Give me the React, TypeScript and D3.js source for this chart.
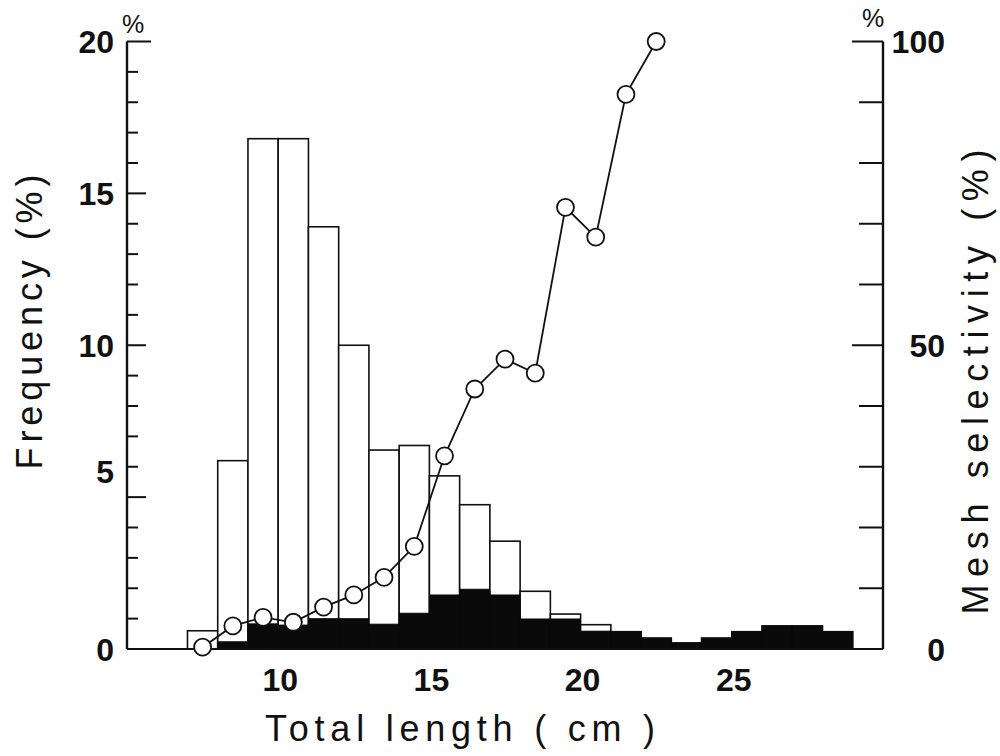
import React from "react";
import * as d3 from "d3";

// Length classes (lower bound of each 1 cm class, cm)
const lengthClasses = [7, 8, 9, 10, 11, 12, 13, 14, 15, 16, 17, 18, 19, 20, 21, 22, 23, 24, 25, 26, 27, 28];
// Frequency of all fish in each class (%), open bars
const totalFreq = [0.6, 6.2, 16.8, 16.8, 13.9, 10.0, 6.55, 6.7, 5.7, 4.75, 3.55, 1.9, 1.15, 0.8, 0.57, 0.36, 0.2, 0.36, 0.57, 0.76, 0.76, 0.57];
// Frequency of retained fish in each class (%), solid bars
const retainedFreq = [0, 0.24, 0.83, 0.79, 1.0, 1.0, 0.82, 1.18, 1.78, 1.97, 1.78, 0.99, 0.99, 0.59, 0.57, 0.36, 0.2, 0.36, 0.57, 0.76, 0.76, 0.57];
// Mesh selectivity at class mid-points (%)
const selectivityMid = [7.5, 8.5, 9.5, 10.5, 11.5, 12.5, 13.5, 14.5, 15.5, 16.5, 17.5, 18.5, 19.5, 20.5, 21.5, 22.5];
const selectivity = [0.3, 3.8, 5.2, 4.4, 6.9, 8.9, 11.8, 16.9, 31.8, 42.8, 47.7, 45.4, 72.7, 67.8, 91.3, 100];

const xTickLabels = [10, 15, 20, 25];
const leftTickLabels = [0, 5, 10, 15, 20];
const rightTickLabels = [0, 50, 100];

const W = 1000;
const H = 756;
const left = 127;
const right = 883;
const top = 41.5;
const bottom = 649;

const boldFont = "'Liberation Sans', Arial, sans-serif";
const titleFont = "'Liberation Sans', Arial, sans-serif";

export default function App() {
  const x = d3.scaleLinear().domain([5, 30]).range([left, right]);
  const yL = d3.scaleLinear().domain([0, 20]).range([bottom, top]);
  const yR = d3.scaleLinear().domain([0, 100]).range([bottom, top]);

  const line = d3
    .line<number>()
    .x((_, i) => x(selectivityMid[i]))
    .y((d) => yR(d));

  const leftTicks = d3.range(1, 21);
  const rightTicks = d3.range(10, 101, 10);

  return (
    <svg
      width={W}
      height={H}
      viewBox={`0 0 ${W} ${H}`}
      style={{ position: "absolute", left: 0, top: 0, background: "#fff" }}
    >
      <rect width={W} height={H} fill="#fff" />

      {/* open bars: total catch */}
      {lengthClasses.map((c, i) => (
        <rect
          key={"t" + c}
          x={x(c)}
          y={yL(totalFreq[i])}
          width={x(c + 1) - x(c)}
          height={bottom - yL(totalFreq[i])}
          fill="#fff"
          stroke="#111"
          strokeWidth={1.6}
        />
      ))}

      {/* solid bars: retained fish */}
      {lengthClasses.map((c, i) =>
        retainedFreq[i] > 0 ? (
          <rect
            key={"r" + c}
            x={x(c)}
            y={yL(retainedFreq[i])}
            width={x(c + 1) - x(c)}
            height={bottom - yL(retainedFreq[i])}
            fill="#0a0a0a"
            stroke="#0a0a0a"
            strokeWidth={0.8}
          />
        ) : null
      )}

      {/* baseline */}
      <line x1={left} x2={right} y1={bottom} y2={bottom} stroke="#111" strokeWidth={2} />

      {/* left axis */}
      <line x1={left} x2={left} y1={top} y2={bottom} stroke="#111" strokeWidth={2.4} />
      {leftTicks.map((t) => {
        const len = t === 20 ? 24 : t % 5 === 0 ? 19 : 11;
        return (
          <line key={"lt" + t} x1={left} x2={left + len} y1={yL(t)} y2={yL(t)} stroke="#111" strokeWidth={2} />
        );
      })}
      {leftTickLabels.map((t) => (
        <text
          key={"ll" + t}
          x={114}
          y={yL(t) + (t === 5 ? -26 : 0)}
          dy="0.36em"
          textAnchor="end"
          fontFamily={boldFont}
          fontWeight="bold"
          fontSize={32}
          fill="#111"
        >
          {t}
        </text>
      ))}
      <text x={133} y={33} textAnchor="middle" fontFamily={titleFont} fontSize={25} fill="#111">
        %
      </text>

      {/* right axis */}
      <line x1={right} x2={right} y1={top} y2={bottom} stroke="#111" strokeWidth={2.4} />
      {rightTicks.map((t) => {
        const len = t % 50 === 0 ? 31 : 24;
        return (
          <line key={"rt" + t} x1={right - len} x2={right} y1={yR(t)} y2={yR(t)} stroke="#111" strokeWidth={2} />
        );
      })}
      {rightTickLabels.map((t) => (
        <text
          key={"rl" + t}
          x={945}
          y={yR(t)}
          dy="0.36em"
          textAnchor="end"
          fontFamily={boldFont}
          fontWeight="bold"
          fontSize={32}
          fill="#111"
        >
          {t}
        </text>
      ))}
      <text x={873} y={27} textAnchor="middle" fontFamily={titleFont} fontSize={25} fill="#111">
        %
      </text>

      {/* x tick labels */}
      {xTickLabels.map((t) => (
        <text
          key={"xl" + t}
          x={x(t) + 2}
          y={691}
          textAnchor="middle"
          fontFamily={boldFont}
          fontWeight="bold"
          fontSize={32}
          fill="#111"
        >
          {t}
        </text>
      ))}

      {/* selectivity curve */}
      <path d={line(selectivity) || ""} fill="none" stroke="#111" strokeWidth={1.8} />
      {selectivity.map((v, i) => (
        <circle
          key={"c" + i}
          cx={x(selectivityMid[i])}
          cy={yR(v)}
          r={8.5}
          fill="#fff"
          stroke="#111"
          strokeWidth={1.8}
        />
      ))}

      {/* axis titles */}
      <text
        x={460}
        y={741}
        textAnchor="middle"
        fontFamily={titleFont}
        fontSize={36}
        textLength={390}
        lengthAdjust="spacing"
        fill="#111"
      >
        Total length ( cm )
      </text>
      <text
        transform={`translate(42, 322) rotate(-90)`}
        textAnchor="middle"
        fontFamily={titleFont}
        fontSize={36}
        textLength={295}
        lengthAdjust="spacing"
        fill="#111"
      >
        Frequency (%)
      </text>
      <text
        transform={`translate(988, 382) rotate(-90)`}
        textAnchor="middle"
        fontFamily={titleFont}
        fontSize={36}
        textLength={465}
        lengthAdjust="spacing"
        fill="#111"
      >
        Mesh selectivity (%)
      </text>
    </svg>
  );
}
